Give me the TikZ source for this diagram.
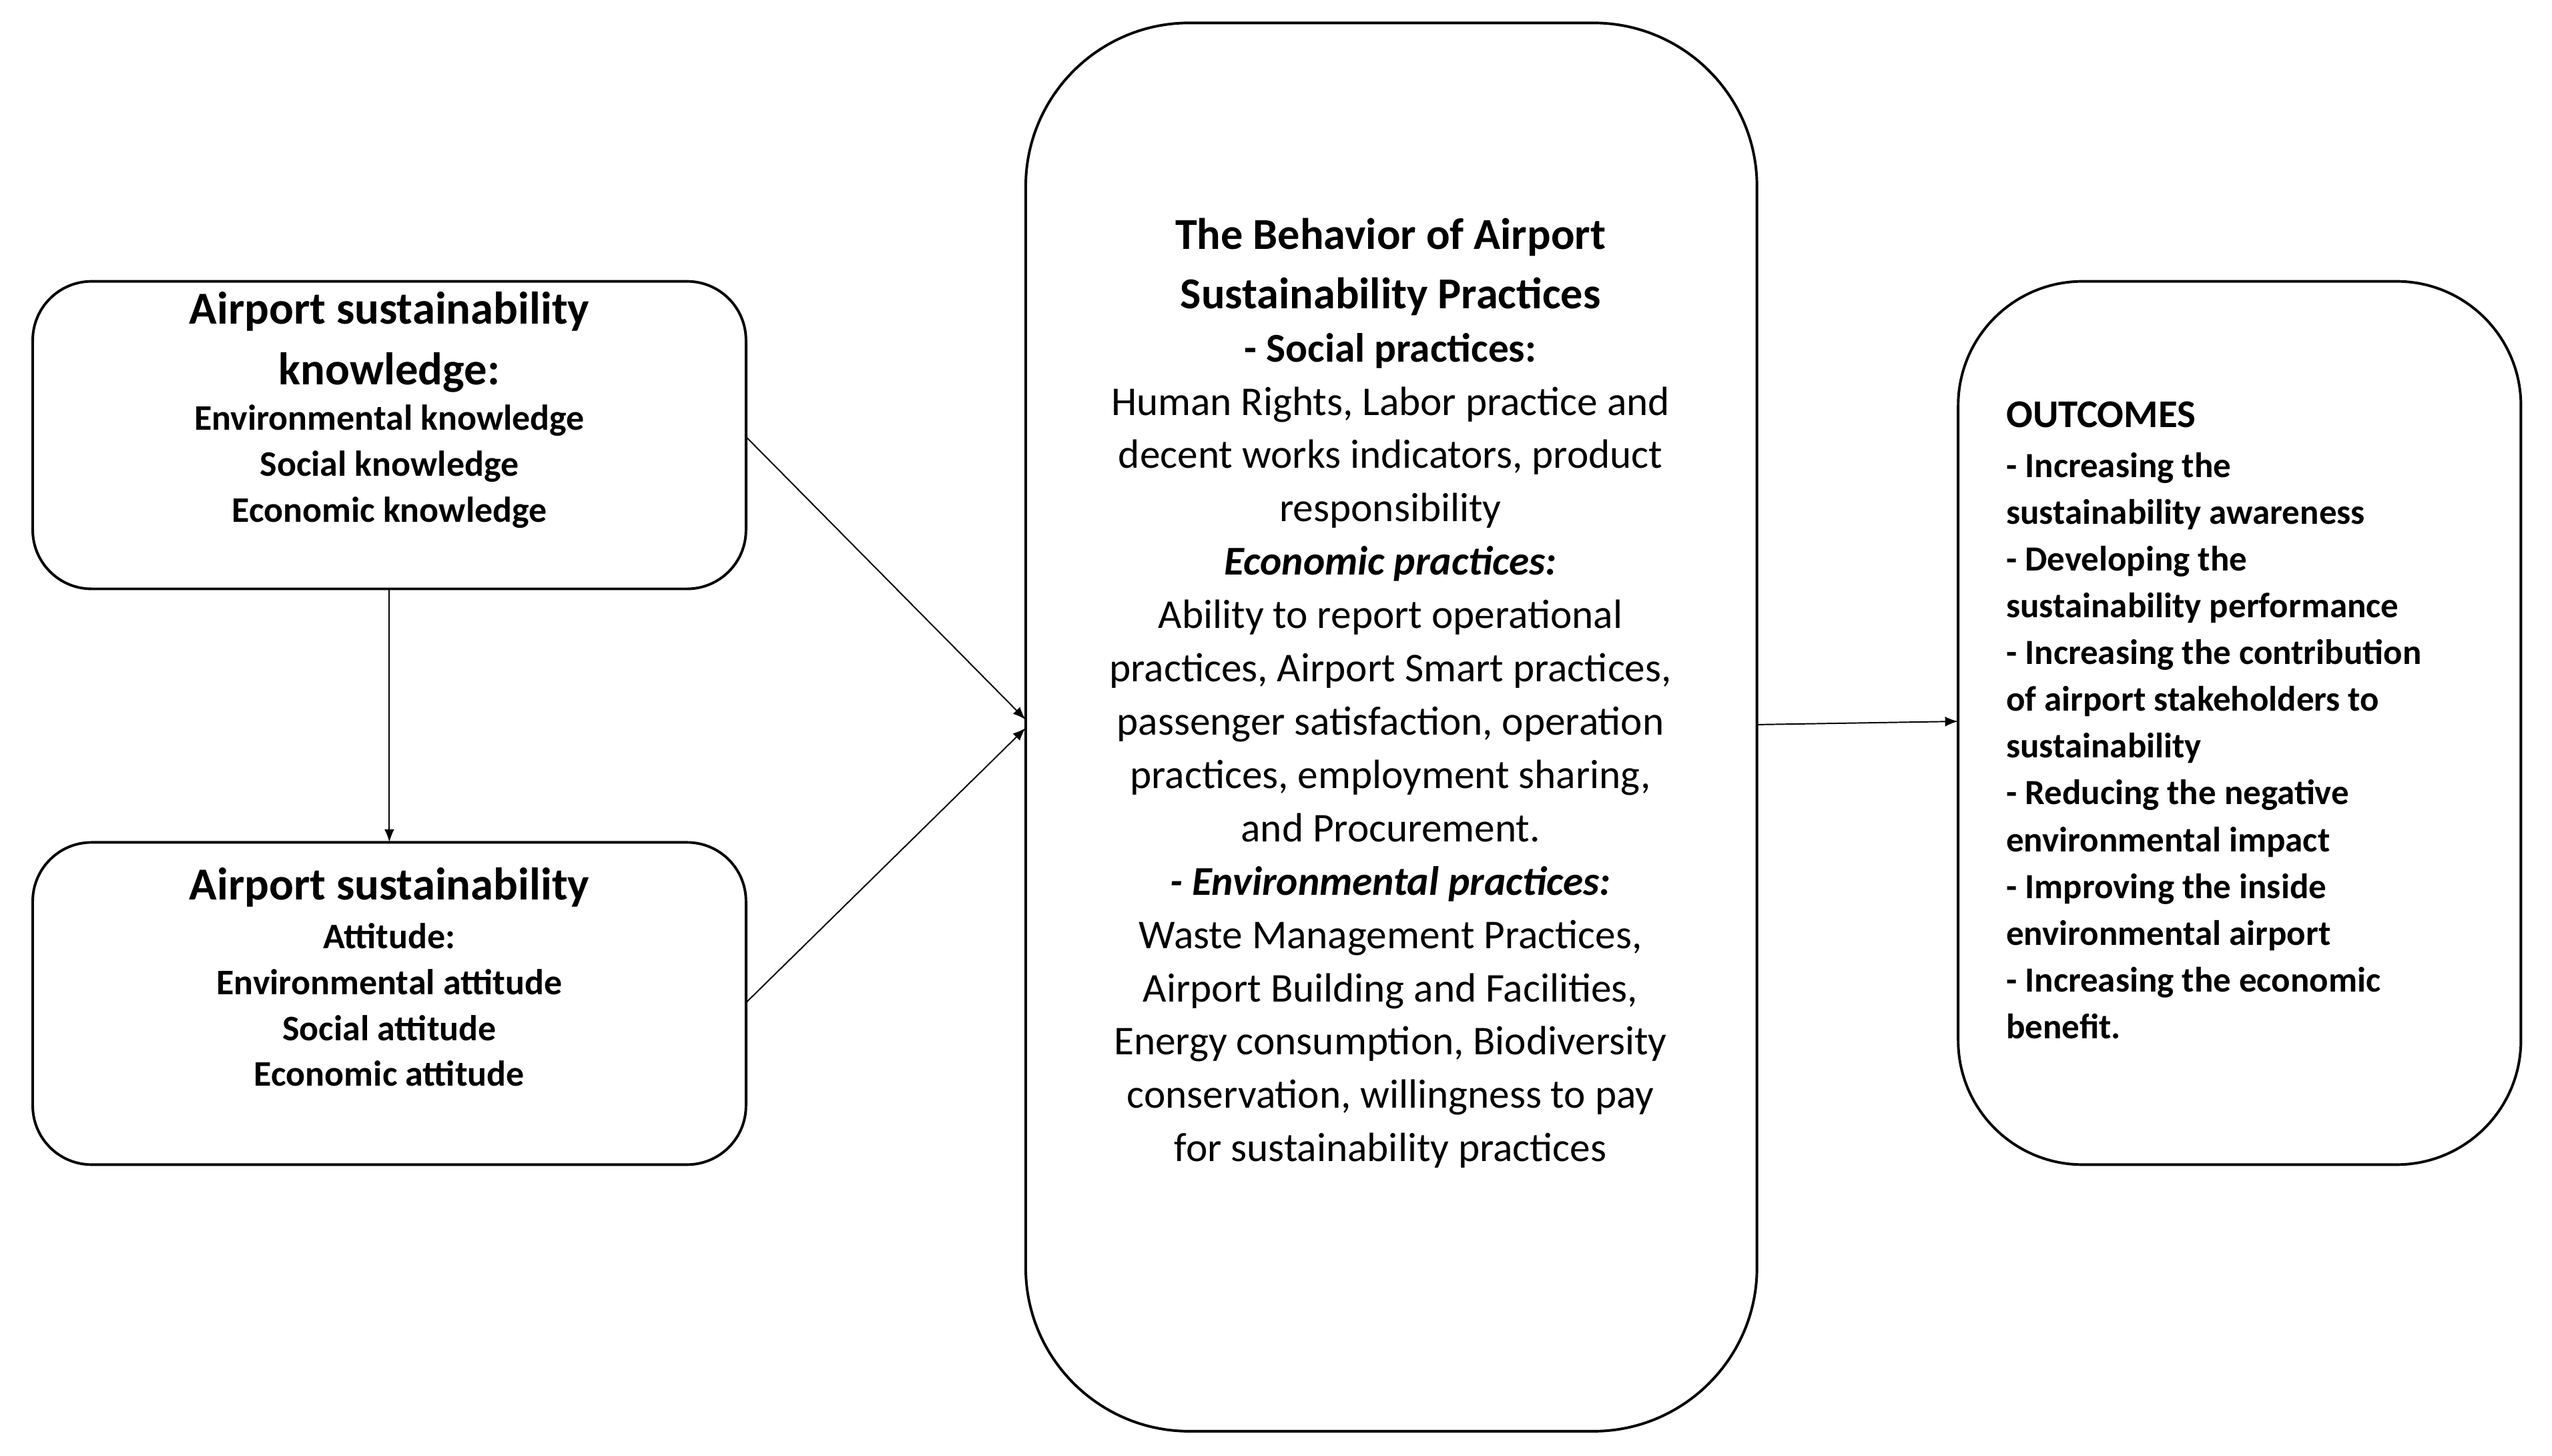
\documentclass[tikz,border=0pt]{standalone}
\usepackage{fontspec}
\setmainfont{Carlito}
\newcommand\ttl{\fontsize{14}{14}\selectfont\bfseries}
\newcommand\sml{\fontsize{11}{14}\selectfont\bfseries}
\newcommand\cb{\fontsize{12.5}{16.3}\selectfont}
\newcommand\ct{\fontsize{13.5}{16.3}\selectfont\bfseries}
\newcommand\rb{\fontsize{10.8}{14.3}\selectfont\bfseries}
\begin{document}
\begin{tikzpicture}[x=0.5pt,y=-0.5pt,
  box/.style={draw,line width=0.8pt},
  arr/.style={-latex,line width=0.4pt},
  txt/.style={inner sep=0pt,align=center}]
\useasboundingbox (0,0) rectangle (1560,890);
\draw[box,rounded corners=18pt] (20,172) rectangle (456,360);
\draw[box,rounded corners=18pt] (20,515) rectangle (456,712);
\draw[box,rounded corners=50pt] (627,14) rectangle (1074,875);
\draw[box,rounded corners=38pt] (1197,172) rectangle (1541,712);
\coordinate (a1) at (456,267); \coordinate (a2) at (456,613);
\coordinate (c1) at (627,440); \coordinate (c2) at (627,445);
\coordinate (b1) at (238,360); \coordinate (b2) at (238,515);
\coordinate (d1) at (1074,443); \coordinate (d2) at (1197,441);
\draw[arr] (a1)--(c1); \draw[arr] (a2)--(c2); \draw[arr] (b1)--(b2); \draw[arr] (d1)--(d2);
\node[txt,anchor=north,font=\fontsize{11}{14}\selectfont] (t1) at (238,178) {\ttl Airport sustainability\\[4.5pt] \ttl knowledge:\\[0pt]
\sml Environmental knowledge\\ \sml Social knowledge\\ \sml Economic knowledge};
\node[txt,anchor=north,font=\fontsize{11}{14}\selectfont] (t2) at (238,530) {\ttl Airport sustainability\\[1pt]
\sml Attitude:\\ \sml Environmental attitude\\ \sml Social attitude\\ \sml Economic attitude};
\node[txt,anchor=north,font=\fontsize{12.5}{16.3}\selectfont] (t3) at (850,133) {\ct The Behavior of Airport\\[1.8pt] \ct Sustainability Practices\\
\cb\bfseries - Social practices:\\ \cb Human Rights, Labor practice and\\ \cb decent works indicators, product\\ \cb responsibility\\
\cb\bfseries\itshape Economic practices:\\ \cb Ability to report operational\\ \cb practices, Airport Smart practices,\\ \cb passenger satisfaction, operation\\ \cb practices, employment sharing,\\ \cb and Procurement.\\
\cb\bfseries\itshape - Environmental practices:\\ \cb Waste Management Practices,\\ \cb Airport Building and Facilities,\\ \cb Energy consumption, Biodiversity\\ \cb conservation, willingness to pay\\ \cb for sustainability practices};
\node[txt,anchor=north west,align=left,font=\fontsize{10.8}{14.3}\selectfont] (t4) at (1226,245) {\fontsize{12}{15}\selectfont\bfseries OUTCOMES\\[1pt]
\rb - Increasing the\\ \rb sustainability awareness\\ \rb - Developing the\\ \rb sustainability performance\\ \rb - Increasing the contribution\\ \rb of airport stakeholders to\\ \rb sustainability\\ \rb - Reducing the negative\\ \rb environmental impact\\ \rb - Improving the inside\\ \rb environmental airport\\ \rb - Increasing the economic\\ \rb benefit.};
\end{tikzpicture}
\end{document}
